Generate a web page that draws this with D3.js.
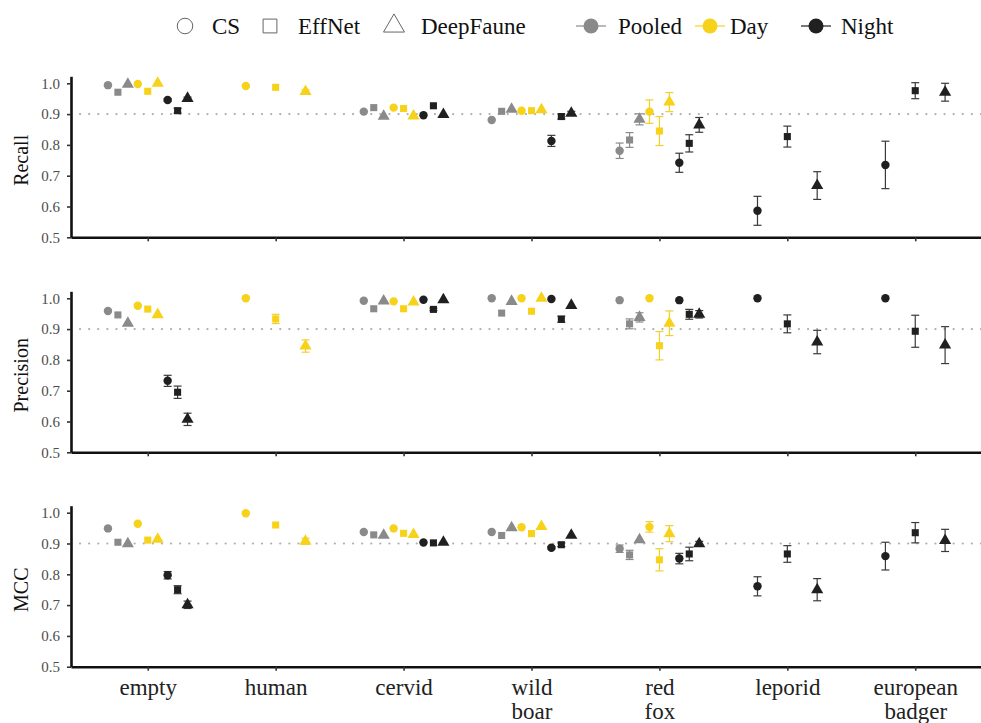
<!DOCTYPE html>
<html>
<head>
<meta charset="utf-8">
<script src="https://cdn.jsdelivr.net/npm/d3@7"></script>
<style>
  body { margin: 0; background: #fff; }
  svg text { font-family: "Liberation Serif", "DejaVu Serif", serif; }
</style>
</head>
<body>
<div id="chart"></div>
<script>
// categories along x, and the legend groups
const categories = ["empty", "human", "cervid", "wild boar", "red fox", "leporid", "european badger"];
const conditions = ["Pooled", "Day", "Night"];
const models = ["CS", "EffNet", "DeepFaune"];
const metrics = ["Recall", "Precision", "MCC"];
const yTicks = [0.5, 0.6, 0.7, 0.8, 0.9, 1.0];

// order inside each category: Pooled CS/EffNet/DF, Day CS/EffNet/DF, Night CS/EffNet/DF (null = not shown)
const recallVals = [
  [0.994, 0.971, 0.997, 0.998, 0.974, 1.000, 0.946, 0.911, 0.951],
  [null, null, null, 0.991, 0.987, 0.973, null, null, null],
  [0.908, 0.921, 0.893, 0.921, 0.918, 0.894, 0.896, 0.927, 0.899],
  [0.881, 0.909, 0.916, 0.911, 0.911, 0.914, 0.813, 0.892, 0.903],
  [0.781, 0.816, 0.883, 0.908, 0.845, 0.939, 0.742, 0.805, 0.865],
  [null, null, null, null, null, null, 0.586, 0.827, 0.668],
  [null, null, null, null, null, null, 0.735, 0.976, 0.971]
];
const recallErr = [
  [0, 0, 0, 0, 0, 0, 0.004, 0.008, 0.004],
  [0, 0, 0, 0, 0, 0.006, 0, 0, 0],
  [0, 0, 0, 0, 0, 0, 0, 0, 0],
  [0, 0, 0, 0, 0, 0, 0.018, 0.008, 0.006],
  [0.025, 0.024, 0.018, 0.038, 0.047, 0.031, 0.031, 0.028, 0.024],
  [0, 0, 0, 0, 0, 0, 0.047, 0.034, 0.045],
  [0, 0, 0, 0, 0, 0, 0.077, 0.026, 0.029]
];
const precisionVals = [
  [0.959, 0.946, 0.919, 0.976, 0.965, 0.947, 0.732, 0.695, 0.607],
  [null, null, null, 1.000, 0.933, 0.845, null, null, null],
  [0.992, 0.966, 0.991, 0.990, 0.966, 0.988, 0.995, 0.964, 0.995],
  [1.000, 0.952, 0.990, 1.000, 0.958, 1.000, 0.998, 0.932, 0.977],
  [0.994, 0.917, 0.938, 1.000, 0.846, 0.919, 0.994, 0.948, 0.948],
  [null, null, null, null, null, null, 1.000, 0.917, 0.858],
  [null, null, null, null, null, null, 1.000, 0.893, 0.848]
];
const precisionErr = [
  [0, 0, 0, 0, 0, 0, 0.018, 0.020, 0.020],
  [0, 0, 0, 0, 0.015, 0.020, 0, 0, 0],
  [0, 0, 0, 0, 0, 0, 0, 0.004, 0],
  [0, 0, 0, 0, 0, 0, 0, 0.010, 0],
  [0, 0.016, 0.015, 0, 0.046, 0.040, 0, 0.016, 0.012],
  [0, 0, 0, 0, 0, 0, 0, 0.029, 0.038],
  [0, 0, 0, 0, 0, 0, 0, 0.052, 0.060]
];
const mccVals = [
  [0.949, 0.904, 0.899, 0.964, 0.911, 0.914, 0.797, 0.750, 0.701],
  [null, null, null, 0.998, 0.960, 0.907, null, null, null],
  [0.937, 0.928, 0.927, 0.949, 0.933, 0.929, 0.903, 0.902, 0.904],
  [0.937, 0.926, 0.951, 0.953, 0.932, 0.955, 0.886, 0.896, 0.927],
  [0.883, 0.863, 0.912, 0.954, 0.847, 0.932, 0.851, 0.866, 0.899],
  [null, null, null, null, null, null, 0.761, 0.866, 0.750],
  [null, null, null, null, null, null, 0.859, 0.935, 0.910]
];
const mccErr = [
  [0, 0, 0, 0, 0, 0, 0.012, 0.013, 0.012],
  [0, 0, 0, 0, 0, 0.010, 0, 0, 0],
  [0, 0, 0, 0, 0, 0, 0, 0, 0],
  [0, 0, 0, 0, 0, 0, 0.004, 0.006, 0],
  [0.012, 0.015, 0, 0.017, 0.036, 0.026, 0.017, 0.022, 0.008],
  [0, 0, 0, 0, 0, 0, 0.031, 0.027, 0.036],
  [0, 0, 0, 0, 0, 0, 0.045, 0.033, 0.036]
];

const width = 981, height = 723;
const serif = '"Liberation Serif", "DejaVu Serif", serif';
const colors = { Pooled: "#8a8a8a", Day: "#f7d21a", Night: "#202020" };
const barColors = { Pooled: "#8a8a8a", Day: "#f2cf2a", Night: "#3a3a3a" };
const shapes = { CS: d3.symbolCircle, EffNet: d3.symbolSquare, DeepFaune: d3.symbolTriangle };
const sizes = { CS: 56, EffNet: 50, DeepFaune: 64 };

const svg = d3.select("#chart").append("svg")
  .attr("width", width)
  .attr("height", height);

const x = d3.scalePoint()
  .domain(categories)
  .range([71, 992])
  .padding(0.6);
const dodge = 0.7 * x.step();

// panel bottoms (value 0.5); 0.5 of value spans 154px
const panels = [
  { name: "Recall", bottom: 237.3, vals: recallVals, err: recallErr },
  { name: "Precision", bottom: 452.3, vals: precisionVals, err: precisionErr },
  { name: "MCC", bottom: 666.7, vals: mccVals, err: mccErr }
];

panels.forEach((p, pi) => {
  const y = d3.scaleLinear()
    .domain([0.5, 1.0227])
    .range([p.bottom, p.bottom - 161]);

  const g = svg.append("g");

  // reference line at 0.9
  g.append("line")
    .attr("x1", 80).attr("x2", width)
    .attr("y1", y(0.9)).attr("y2", y(0.9))
    .attr("stroke", "#b0b0b0")
    .attr("stroke-width", 2.2)
    .attr("stroke-linecap", "round")
    .attr("stroke-dasharray", "0.1,9");

  const yAxis = g.append("g")
    .attr("transform", "translate(71,0)")
    .call(d3.axisLeft(y).tickValues(yTicks).tickFormat(d3.format(".1f")).tickSize(4).tickSizeOuter(0));
  yAxis.attr("font-family", serif);
  yAxis.select(".domain").attr("stroke", "#111").attr("stroke-width", 2.6);
  yAxis.selectAll(".tick line").attr("stroke", "#333").attr("stroke-width", 1.6);
  yAxis.selectAll(".tick text")
    .attr("x", -11)
    .attr("fill", "#4d4d4d")
    .style("font-family", serif)
    .style("font-size", "15px");

  const xAxis = g.append("g")
    .attr("transform", `translate(0,${p.bottom})`)
    .call(d3.axisBottom(x).tickSize(4).tickSizeOuter(0));
  xAxis.attr("font-family", serif);
  xAxis.select(".domain").attr("stroke", "#111").attr("stroke-width", 2.6);
  xAxis.selectAll(".tick line").attr("stroke", "#333").attr("stroke-width", 1.6);
  xAxis.selectAll(".tick text").remove();

  if (pi === panels.length - 1) {
    xAxis.selectAll(".tick").each(function (d) {
      const t = d3.select(this).append("text")
        .attr("fill", "#222")
        .attr("text-anchor", "middle")
        .style("font-family", serif)
        .style("font-size", "23px");
      d.split(" ").forEach((w, i) => {
        t.append("tspan").attr("x", 0).attr("y", 28 + i * 24).text(w);
      });
    });
  }

  g.append("text")
    .attr("transform", `translate(28,${p.bottom - 77}) rotate(-90)`)
    .attr("text-anchor", "middle")
    .attr("fill", "#111")
    .style("font-size", "20px")
    .text(p.name);

  // points with dodge inside each category
  categories.forEach((c, ci) => {
    const present = [];
    p.vals[ci].forEach((v, k) => { if (v !== null) present.push(k); });
    const n = present.length;
    present.forEach((k, j) => {
      const cond = conditions[Math.floor(k / 3)];
      const model = models[k % 3];
      const v = p.vals[ci][k];
      const e = p.err[ci][k];
      const cx = x(c) + (j - (n - 1) / 2) * dodge / n;
      if (e > 0) {
        const eg = g.append("g").attr("stroke", barColors[cond]).attr("stroke-width", 1.2);
        eg.append("line").attr("x1", cx).attr("x2", cx).attr("y1", y(v - e)).attr("y2", y(v + e));
        eg.append("line").attr("x1", cx - 4).attr("x2", cx + 4).attr("y1", y(v - e)).attr("y2", y(v - e));
        eg.append("line").attr("x1", cx - 4).attr("x2", cx + 4).attr("y1", y(v + e)).attr("y2", y(v + e));
      }
      g.append("path")
        .attr("d", d3.symbol().type(shapes[model]).size(sizes[model])())
        .attr("transform", `translate(${cx},${y(v)})`)
        .attr("fill", colors[cond]);
    });
  });
});

// legend
const leg = svg.append("g").attr("transform", "translate(0,26)");
const shapeLeg = [
  { m: "CS", x: 185, tx: 212 },
  { m: "EffNet", x: 270, tx: 298 },
  { m: "DeepFaune", x: 394, tx: 421 }
];
shapeLeg.forEach(s => {
  leg.append("path")
    .attr("d", d3.symbol().type(shapes[s.m]).size(190)())
    .attr("transform", `translate(${s.x},0)`)
    .attr("fill", "#fff")
    .attr("stroke", "#666")
    .attr("stroke-width", 1);
  leg.append("text")
    .attr("x", s.tx).attr("y", 8)
    .attr("fill", "#111")
    .style("font-size", "23px")
    .text(s.m);
});
const colLeg = [
  { c: "Pooled", x: 591, tx: 618 },
  { c: "Day", x: 710, tx: 730 },
  { c: "Night", x: 816, tx: 841 }
];
colLeg.forEach(s => {
  leg.append("line")
    .attr("x1", s.x - 15).attr("x2", s.x + 15)
    .attr("stroke", colors[s.c]).attr("stroke-width", 1.2);
  leg.append("circle")
    .attr("cx", s.x).attr("r", 7.5)
    .attr("fill", colors[s.c]);
  leg.append("text")
    .attr("x", s.tx).attr("y", 8)
    .attr("fill", "#111")
    .style("font-size", "23px")
    .text(s.c);
});
</script>
</body>
</html>
